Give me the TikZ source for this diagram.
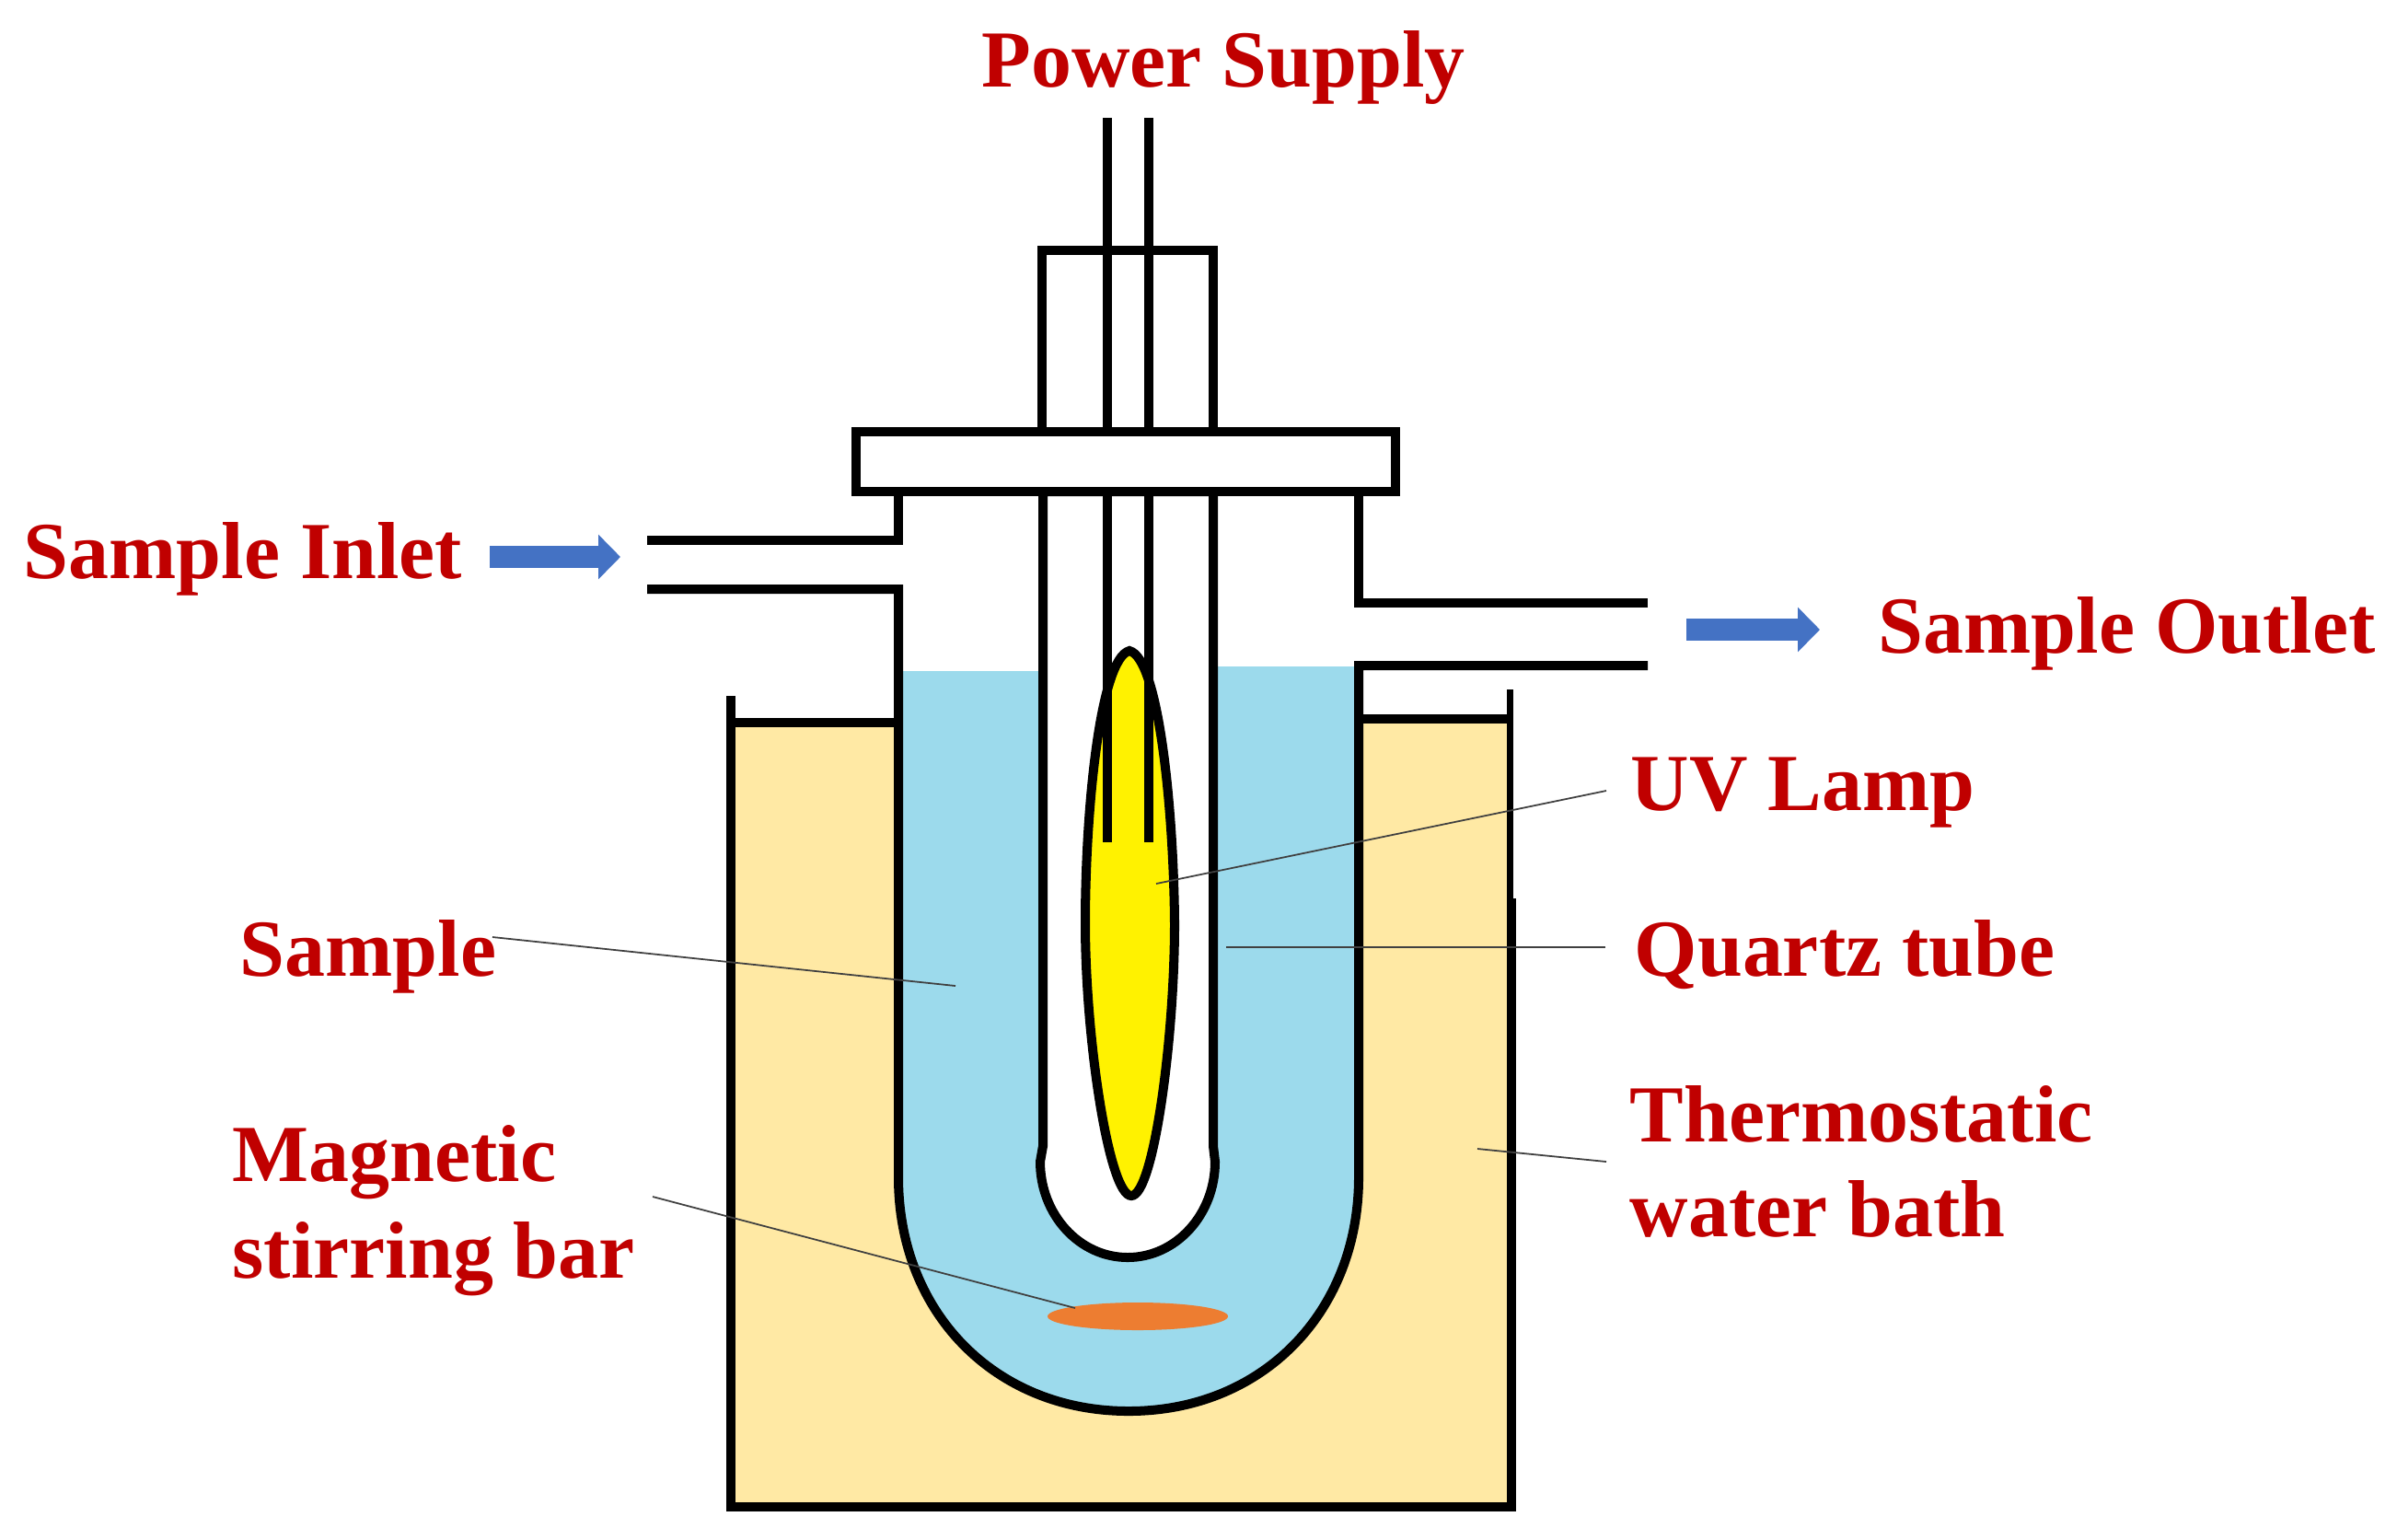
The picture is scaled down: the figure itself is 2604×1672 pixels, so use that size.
\documentclass[tikz,border=0pt]{standalone}
\usepackage{fontspec}
\setmainfont{Liberation Serif}
\usetikzlibrary{arrows.meta}

\definecolor{labelred}{HTML}{C00000}
\definecolor{bathyellow}{HTML}{FFE9A4}
\definecolor{sampleblue}{HTML}{9CDAEC}
\definecolor{lampyellow}{HTML}{FFF200}
\definecolor{barorange}{HTML}{ED7D31}
\definecolor{flowblue}{HTML}{4472C4}

\begin{document}
\begin{tikzpicture}[
    % one unit is one pixel of the picture, y runs downwards
    x=0.01cm, y=-0.01cm,
    wall/.style = {draw=black, line width=2.85pt, line cap=butt, line join=miter},
    label/.style = {anchor=base west, text=labelred, font=\bfseries\fontsize{25}{28}\selectfont, inner sep=0pt},
    leader/.style = {draw=black!75, line width=0.5pt},
    flow/.style = {draw=flowblue, line width=6.8pt, -{Triangle[length=6.8pt,width=13.4pt]}}
    ]
    \useasboundingbox (0,0) rectangle (2604,1672);

    % leader ends
    \coordinate (SampleA) at (535,1018);
    \coordinate (SampleB) at (1038,1071);
    \coordinate (BarA) at (709,1300);
    \coordinate (BarB) at (1168,1421);
    \coordinate (QuartzA) at (1744,1029);
    \coordinate (QuartzB) at (1332,1029);
    \coordinate (LampA) at (1745,859);
    \coordinate (LampB) at (1256,960);
    \coordinate (BathA) at (1745,1262);
    \coordinate (BathB) at (1605,1248);

    % flow arrows
    \coordinate (InA) at (532,605);
    \coordinate (InB) at (674,605);
    \coordinate (OutA) at (1832,684);
    \coordinate (OutB) at (1977,684);

    % bath
    \fill [bathyellow] (794,785) rectangle (1640,1637);
    \draw [wall] (794,756) -- (794,1637) -- (1642,1637) -- (1642,976);
    \draw [wall, line width=2pt] (1640,976) -- (1640,749);
    \draw [wall] (794,785) -- (976,785);
    \draw [wall] (1476,781) -- (1640,781);

    % reactor
    \fill [sampleblue] (976,729) -- (1226,729) -- (1226,724) -- (1476,724) -- (1476,1279)
        .. controls (1476,1425) and (1372,1533) .. (1226,1533)
        .. controls (1080,1533) and (976,1425) .. (976,1279) -- cycle;
    \draw [wall] (703,587) -- (976,587) -- (976,534);
    \draw [wall] (703,640) -- (976,640) -- (976,1279)
        .. controls (976,1425) and (1080,1533) .. (1226,1533)
        .. controls (1372,1533) and (1476,1425) .. (1476,1279)
        -- (1476,723) -- (1790,723);
    \draw [wall] (1790,655) -- (1476,655) -- (1476,534);

    % quartz tube
    \path [wall, fill=white] (1133,534) -- (1133,1245) -- (1130,1262)
        arc [start angle=180, end angle=0, x radius=95, y radius=104]
        -- (1318,1245) -- (1318,534) -- cycle;
    \draw [wall, fill=white] (1132,272) rectangle (1318,469);

    % lamp
    \draw [wall, fill=lampyellow] (1227,707)
        .. controls (1195,715) and (1179,880) .. (1179,1003)
        .. controls (1179,1130) and (1205,1299) .. (1229,1299)
        .. controls (1253,1299) and (1276,1130) .. (1276,1003)
        .. controls (1275,880) and (1259,715) .. (1227,707) -- cycle;
    \draw [wall] (1203,128) -- (1203,915);
    \draw [wall] (1248,128) -- (1248,915);

    % flange
    \draw [wall, fill=white] (930,469) rectangle (1516,534);

    % stirring bar
    \fill [barorange] (1236,1430) ellipse [x radius=98, y radius=15];

    % labels
    \node (Supply) [label] at (1066,94) {Power Supply};
    \node (Inlet) [label] at (25,628) {Sample Inlet};
    \node (Outlet) [label] at (2040,709) {Sample Outlet};
    \node (Lamp) [label] at (1771,880) {UV Lamp};
    \node (Quartz) [label] at (1775,1060) {Quartz tube};
    \node (Sample) [label] at (260,1060) {Sample};
    \node (Thermo) [label] at (1770,1240) {Thermostatic};
    \node (Water) [label] at (1770,1343) {water bath};
    \node (Magnetic) [label] at (252,1283) {Magnetic};
    \node (Stirring) [label] at (252,1388) {stirring bar};

    % edges
    \path [leader] (SampleA) -- (SampleB);
    \path [leader] (BarA) -- (BarB);
    \path [leader] (QuartzA) -- (QuartzB);
    \path [leader] (LampA) -- (LampB);
    \path [leader] (BathA) -- (BathB);
    \path [flow] (InA) -- (InB);
    \path [flow] (OutA) -- (OutB);
\end{tikzpicture}
\end{document}
